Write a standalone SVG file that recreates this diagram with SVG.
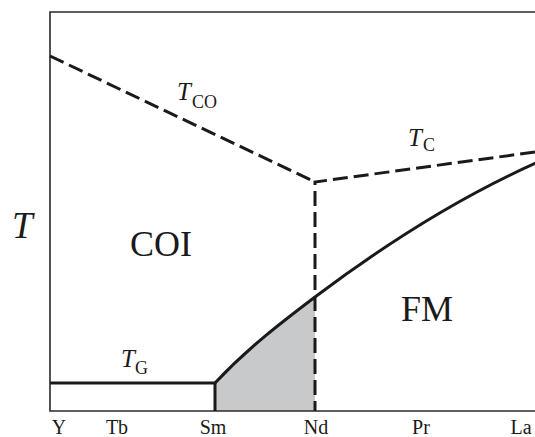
<svg xmlns="http://www.w3.org/2000/svg" width="535" height="437" viewBox="0 0 535 437">
<style>
text{font-family:"Liberation Serif","Times New Roman",serif;fill:#1a1a1a}
.it{font-style:italic}
.frame{fill:none;stroke:#2a2a2a;stroke-width:1.6}
.dash{fill:none;stroke:#1a1a1a;stroke-width:3;stroke-dasharray:15 6}
.solid{fill:none;stroke:#1a1a1a;stroke-width:3;stroke-linejoin:miter}
.big{font-size:36px}
.ax{font-size:20px}
.tl{font-size:25px}
.sub{font-size:18px}
</style>
<rect width="535" height="437" fill="#ffffff"/>
<g id="shaded-region">
<path d="M215,411 L215,383 C249,347 282,322 315,297 L315,411 Z" fill="#c8c9cb"/>
</g>
<g id="frame">
<path class="frame" d="M536,12 L50,12 L50,411 L536,411"/>
</g>
<g id="connectors">
<path class="dash" d="M50,56 L315,182"/>
<path class="dash" d="M535,152 L315,182 L315,411"/>
<path class="solid" d="M50,383 L215,383 L215,411"/>
<path class="solid" d="M215,383 C249,347 282,322 315,297 C388,242 462,196 536,163"/>
</g>
<g id="label-T">
<text class="it" x="12" y="238" font-size="37">T</text>
</g>
<g id="label-COI"><text class="big" x="130" y="256">COI</text></g>
<g id="label-FM"><text class="big" x="401" y="321">FM</text></g>
<g id="label-TCO">
<text class="it tl" x="177" y="100">T</text>
<text class="sub" x="192" y="108">CO</text>
</g>
<g id="label-TC">
<text class="it tl" x="408" y="146">T</text>
<text class="sub" x="423" y="151">C</text>
</g>
<g id="label-TG">
<text class="it tl" x="121" y="367">T</text>
<text class="sub" x="135" y="374">G</text>
</g>
<g id="axis-labels" text-anchor="middle">
<text class="ax" x="59" y="434">Y</text>
<text class="ax" x="117" y="434">Tb</text>
<text class="ax" x="213" y="434">Sm</text>
<text class="ax" x="316" y="434">Nd</text>
<text class="ax" x="421" y="434">Pr</text>
<text class="ax" x="521" y="434">La</text>
</g>
</svg>
